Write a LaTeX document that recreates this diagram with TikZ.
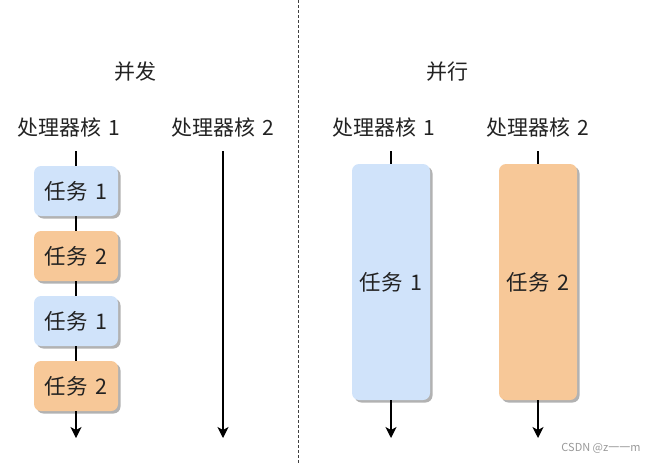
\documentclass[tikz,border=0pt]{standalone}
\usepackage{fontspec}
\setmainfont{Noto Sans CJK SC}
\usetikzlibrary{arrows.meta,positioning,shadows}
\definecolor{taskblue}{HTML}{D0E3FA}
\definecolor{taskorange}{HTML}{F7C898}
\definecolor{inkgray}{HTML}{222222}
\tikzset{
task_box/.style={
	% The shape:
	rectangle,
	rounded corners=7pt,
	% The size:
	minimum width=84pt,
	minimum height=50pt,
	% No border, only a grey shadow
	% down and to the right
	draw=none,
	drop shadow={shadow xshift=2.5pt, shadow yshift=-2.5pt, fill=black!30, opacity=1},
	% Font
	font=\fontsize{21.5}{25}\selectfont,
	text=inkgray
},
core_label/.style={font=\fontsize{21}{25}\selectfont, text=inkgray, inner sep=0pt},
core_line/.style={line width=1.3pt, draw=black},
core_arrow/.style={core_line, -{Stealth[length=11pt, width=11pt, inset=3pt]}},
water_text/.style={font=\fontsize{11}{13}\selectfont, text=black!40, inner sep=0pt}
}

\begin{document}
\begin{tikzpicture}[x=1pt, y=-1pt]
			\useasboundingbox (0,0) rectangle (652,463);

			% the dashed divider
			\coordinate (div_top) at (298,0);
			\coordinate (div_bot) at (298,463);
			\draw[dash pattern=on 3pt off 2pt, line width=0.9pt, black!75] (div_top) -- (div_bot);

			\node[core_label] (conc) at (135,72) {并发};
			\node[core_label] (para) at (447,72) {并行};

			\node[core_label] (l1) at (69,127) {处理器核\,\,1};
			\node[core_label] (l2) at (223,127) {处理器核\,\,2};
			\node[core_label] (r1) at (384,127) {处理器核\,\,1};
			\node[core_label] (r2) at (538,127) {处理器核\,\,2};

			% concurrent: one core takes turns
			\foreach \y/\c/\t [count=\i] in {191/taskblue/1, 256/taskorange/2, 321/taskblue/1, 386/taskorange/2}
				\node[task_box, fill=\c] (t\i) at (76,\y) {任务\,\,\t};

			\coordinate (l1top) at (76,151);
			\coordinate (l1end) at (76,438);
			\draw[core_line] (l1top) -- (t1.north);
			\foreach \a/\b in {1/2, 2/3, 3/4}
				\draw[core_line] (t\a.south) -- (t\b.north);
			\draw[core_arrow] (t4.south) -- (l1end);

			\coordinate (l2top) at (223,151);
			\coordinate (l2end) at (223,438);
			\draw[core_arrow] (l2top) -- (l2end);

			% parallel: each core has its own task
			\node[task_box, fill=taskblue, minimum width=78pt, minimum height=236pt] (p1) at (391,282) {任务\,\,1};
			\node[task_box, fill=taskorange, minimum width=78pt, minimum height=236pt] (p2) at (538,282) {任务\,\,2};

			\coordinate (r1top) at (391,151);
			\coordinate (r1end) at (391,438);
			\coordinate (r2top) at (538,151);
			\coordinate (r2end) at (538,438);
			\draw[core_line] (r1top) -- (p1.north);
			\draw[core_arrow] (p1.south) -- (r1end);
			\draw[core_line] (r2top) -- (p2.north);
			\draw[core_arrow] (p2.south) -- (r2end);

			\node[water_text] (wm) at (601,448) {CSDN @z一一m};
		\end{tikzpicture}
\end{document}
